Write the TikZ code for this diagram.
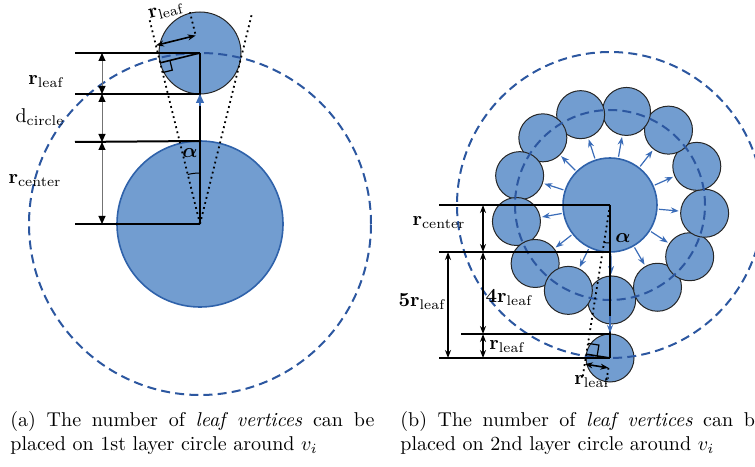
\documentclass[tikz,border=0pt]{standalone}
\usepackage{amsmath,amssymb}
\usetikzlibrary{arrows.meta,calc}

\definecolor{leafblue}{RGB}{114,157,208}
\definecolor{rimblue}{RGB}{47,98,170}
\definecolor{dashblue}{RGB}{44,87,160}
\definecolor{spokeblue}{RGB}{58,108,184}

\begin{document}
\begin{tikzpicture}[x=0.5pt, y=0.5pt, >={Stealth[length=4pt,width=3pt]},
  leaf/.style={fill=leafblue, draw=black!85, line width=0.5pt},
  hub/.style={fill=leafblue, draw=rimblue, line width=0.8pt},
  layer/.style={dashblue, line width=1pt, dash pattern=on 4.5pt off 2.6pt},
  tangent/.style={line width=0.9pt, dash pattern=on 0.9pt off 1.7pt},
  bar/.style={line width=1pt},
  dimA/.style={black!55, line width=0.5pt,
    {Triangle[length=4pt,width=3.5pt,black]}-{Triangle[length=4pt,width=3.5pt,black]}},
  dimB/.style={line width=0.8pt, <->},
  spoke/.style={spokeblue, line width=0.6pt, ->},
  lbl/.style={inner sep=0pt, font=\fontsize{10}{12}\selectfont},
  caption/.style={inner sep=0pt, text width=182pt, align=justify,
    font=\fontsize{10}{12}\selectfont}]

  \useasboundingbox (0,0) rectangle (755,466);
  \clip (0,0) rectangle (755,466);

  % ---------- (a) first layer ----------
  \def\Ra{83}
  \def\ra{41}
  \def\Da{171}
  \def\aA{13.87}
  \coordinate (Oa) at (200,242);          % centre of v_i
  \coordinate (La) at (200,413);          % centre of the leaf
  \coordinate (Ta) at ($(Oa)+(90+\aA:166)$); % tangent point

  \draw[leaf] (La) circle (\ra);
  \draw[hub] (Oa) circle (\Ra);
  \draw[layer] (Oa) circle (\Da);

  % tangent lines
  \draw[tangent] (Oa) -- ++(90+\aA:212);
  \draw[tangent] (Oa) -- ++(90-\aA:216);

  % radius to the tangent point, right angle
  \draw[line width=0.8pt] (La) -- (Ta);
  \draw[line width=0.6pt] ($(Ta)+(270+\aA:10)$) -- ++(\aA:10) -- ++(90+\aA:10);
  \draw[dimB] ($(Ta)+(90+\aA:18)$) -- ($(La)+(90+\aA:18)$);
  \draw[tangent] ($(La)+(90+\aA:20)$) -- ($(La)+(90+\aA:42)$);
  \node[lbl, rotate=\aA] (rla) at (166,454) {$\mathbf{r}_{\text{leaf}}$};

  % levels
  \coordinate (Lab) at ($(La)+(0,-\ra)$);
  \coordinate (Oat) at ($(Oa)+(0,\Ra)$);
  \draw[bar] (75,413) -- (La);
  \draw[bar] (75,372) -- (Lab);
  \draw[bar] (75,324) -- (Oat);
  \draw[bar] (75,242) -- (Oa);
  \draw[bar] (La) -- (Oa);
  \draw[spoke, -{Triangle[length=4.5pt,width=4pt]}] ($(Lab)+(0,-12)$) -- (Lab);

  % dimensions
  \draw[dimA] (102,413) -- (102,372);
  \draw[dimA] (102,372) -- (102,324);
  \draw[dimA] (102,324) -- (102,242);
  \node[lbl] (la1) at (46,384) {$\mathbf{r}_{\text{leaf}}$};
  \node[lbl] (la2) at (40,349) {$\mathrm{d}_{\text{circle}}$};
  \node[lbl] (la3) at (35,285) {$\mathbf{r}_{\text{center}}$};

  % angle
  \draw[line width=0.5pt] ($(Oa)+(90:51)$) arc (90:90+\aA:51);
  \node[lbl] (alA) at (190,313) {$\boldsymbol{\alpha}$};

  % ---------- (b) second layer ----------
  \def\Rb{47}
  \def\rb{24}
  \def\Db{95}
  \def\Eb{153}
  \def\aB{9.03}
  \coordinate (Ob) at (610,261);          % centre of v_i
  \coordinate (Lo) at (610,108);          % leaf on the 2nd layer
  \coordinate (Tb) at ($(Ob)+(270-\aB:151.1)$);

  \foreach \a in {-89,-60,-33,-5,24,52,80,108,135,162,190,218,244}
    \draw[leaf] ($(Ob)+(\a:\Db)$) circle (\rb);
  \draw[leaf] (Lo) circle (\rb);
  \draw[hub] (Ob) circle (\Rb);
  \foreach \a in {-89,-60,-33,-5,24,52,80,108,135,162,190,218,244}
    \draw[spoke] ($(Ob)+(\a:49)$) -- ($(Ob)+(\a:69)$);
  \draw[layer] (Ob) circle (\Db);
  \draw[layer] (Ob) circle (\Eb);

  % tangent line
  \draw[tangent] (Ob) -- ++(270-\aB:176);
  \draw[line width=0.8pt] (Lo) -- (Tb);
  \draw[line width=0.6pt] ($(Tb)+(90-\aB:11)$) -- ++(-\aB:11) -- ++(-90-\aB:11);
  \draw[dimB] ($(Tb)+(270-\aB:10)$) -- ($(Lo)+(270-\aB:10)$);
  \draw[tangent] ($(Lo)+(270-\aB:10)$) -- ($(Lo)+(270-\aB:26)$);
  \node[lbl] (rlb) at (592,84) {$\mathbf{r}_{\text{leaf}}$};

  % levels
  \draw[bar] (439,261) -- (Ob);
  \draw[bar] (439,214) -- (610,214);
  \draw[bar] (461,132) -- (610,132);
  \draw[bar] (439,108) -- (Lo);
  \draw[bar] (Ob) -- (Lo);
  \draw[spoke] (610,150) -- (610,133);

  % dimensions
  \draw[dimB] (483,261) -- (483,214);
  \draw[dimB] (483,214) -- (483,132);
  \draw[dimB] (483,132) -- (483,108);
  \draw[dimB] (448,214) -- (448,108);
  \node[lbl] (lb1) at (439,243) {$\mathbf{r}_{\text{center}}$};
  \node[lbl] (lb2) at (422,164) {$\mathbf{5r}_{\text{leaf}}$};
  \node[lbl] (lb3) at (509,168) {$\mathbf{4r}_{\text{leaf}}$};
  \node[lbl] (lb4) at (507,119) {$\mathbf{r}_{\text{leaf}}$};

  % angle
  \draw[line width=0.5pt] ($(Ob)+(270:38)$) arc (270:270-\aB:38);
  \node[lbl] (alB) at (623,228) {$\boldsymbol{\alpha}$};

  % ---------- captions ----------
  \node[caption, anchor=north west] (capa) at (10,55)
    {(a) The number of \textit{leaf vertices} can be\linebreak
     placed on 1st layer circle around $v_i$};
  \node[caption, anchor=north west] (capb) at (400,55)
    {(b) The number of \textit{leaf vertices} can be\linebreak
     placed on 2nd layer circle around $v_i$};
\end{tikzpicture}
\end{document}
